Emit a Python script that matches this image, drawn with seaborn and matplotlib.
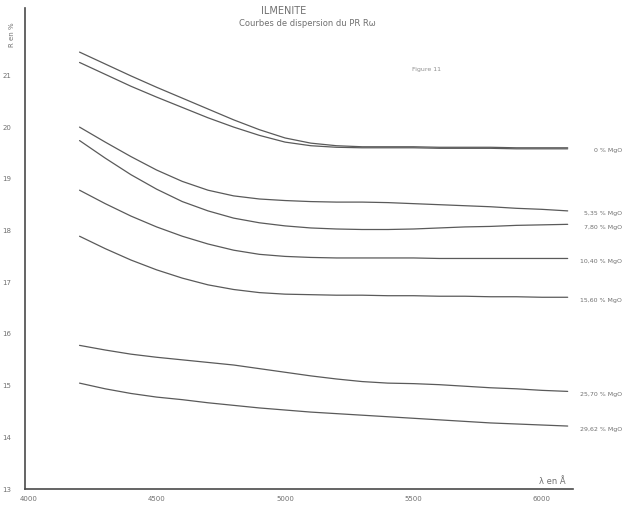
import pandas as pd
import matplotlib
matplotlib.use('Agg')
import matplotlib.pyplot as plt
import seaborn as sns

# Données (longueur d'onde en Å, R en %)
lambdas = [4200, 4300, 4400, 4500, 4600, 4700, 4800, 4900, 5000, 5100,
           5200, 5300, 5400, 5500, 5600, 5700, 5800, 5900, 6000, 6100]

r_0a = [21.45, 21.22, 20.99, 20.77, 20.56, 20.35, 20.14, 19.95, 19.79, 19.69,
        19.64, 19.62, 19.62, 19.62, 19.61, 19.61, 19.61, 19.60, 19.60, 19.60]
r_0b = [21.25, 21.02, 20.79, 20.58, 20.38, 20.18, 20.00, 19.84, 19.71, 19.64,
        19.61, 19.60, 19.60, 19.60, 19.59, 19.59, 19.59, 19.58, 19.58, 19.58]
r_535 = [20.00, 19.71, 19.43, 19.17, 18.95, 18.78, 18.67, 18.61, 18.58, 18.56,
         18.55, 18.55, 18.54, 18.52, 18.50, 18.48, 18.46, 18.43, 18.41, 18.38]
r_780 = [19.74, 19.40, 19.08, 18.80, 18.56, 18.38, 18.24, 18.15, 18.09, 18.05,
         18.03, 18.02, 18.02, 18.03, 18.05, 18.07, 18.08, 18.10, 18.11, 18.12]
r_1040 = [18.78, 18.52, 18.28, 18.07, 17.89, 17.74, 17.62, 17.54, 17.50, 17.48,
          17.47, 17.47, 17.47, 17.47, 17.46, 17.46, 17.46, 17.46, 17.46, 17.46]
r_1560 = [17.89, 17.65, 17.43, 17.24, 17.08, 16.95, 16.86, 16.80, 16.77, 16.76,
          16.75, 16.75, 16.74, 16.74, 16.73, 16.73, 16.72, 16.72, 16.71, 16.71]
r_2570 = [15.78, 15.69, 15.61, 15.55, 15.50, 15.45, 15.40, 15.33, 15.26, 15.19,
          15.13, 15.08, 15.05, 15.04, 15.02, 14.99, 14.96, 14.94, 14.91, 14.89]
r_2962 = [15.05, 14.94, 14.85, 14.78, 14.73, 14.67, 14.62, 14.57, 14.53, 14.49,
          14.46, 14.43, 14.40, 14.37, 14.34, 14.31, 14.28, 14.26, 14.24, 14.22]

courbes = ['0a', '0b', '5,35', '7,80', '10,40', '15,60', '25,70', '29,62']
valeurs = [r_0a, r_0b, r_535, r_780, r_1040, r_1560, r_2570, r_2962]
etiquettes = ['0 % MgO', None, '5,35 % MgO', '7,80 % MgO', '10,40 % MgO',
              '15,60 % MgO', '25,70 % MgO', '29,62 % MgO']

x_ticks = [4000, 4500, 5000, 5500, 6000]
y_ticks = [13, 14, 15, 16, 17, 18, 19, 20, 21]

df = pd.concat([pd.DataFrame({'lambda': lambdas, 'R': v, 'courbe': c})
                for c, v in zip(courbes, valeurs)])

sns.set_style('white')
gris = '#5a5a5a'
texte = '#707070'

fig = plt.figure(figsize=(6.27, 5.09), dpi=100)
ax = fig.add_axes([0.040, 0.039, 0.874, 0.945])

sns.lineplot(data=df, x='lambda', y='R', units='courbe', estimator=None,
             color=gris, linewidth=0.9, ax=ax, legend=False)

ax.set_xlim(3988, 6121)
ax.set_ylim(13, 22.3)
ax.set_xticks(x_ticks)
ax.set_yticks(y_ticks)
ax.tick_params(axis='both', labelsize=5, colors=texte, length=2, width=0.6,
               pad=8)
ax.tick_params(axis='x', pad=3)
ax.set_xlabel('')
ax.set_ylabel('')
for s in ['top', 'right']:
    ax.spines[s].set_visible(False)
for s in ['left', 'bottom']:
    ax.spines[s].set_color('#4a4a4a')
    ax.spines[s].set_linewidth(1.2)

# Etiquettes des courbes à droite
for v, lab in zip(valeurs, etiquettes):
    if lab is None:
        continue
    ax.text(6311, v[-1] - 0.06, lab, ha='right', va='center', fontsize=4.5,
            color=texte, clip_on=False)

ax.text(6039, 13.06, 'λ en Å', fontsize=6, color=texte, ha='center',
        va='bottom')
ax.text(5550, 21.12, 'Figure 11', fontsize=4.5, color='#909090', ha='center',
        va='center')

fig.text(12 / 627, 1 - 35 / 509, 'R en %', rotation=90, fontsize=5,
         color=texte, ha='center', va='center')
fig.text(284 / 627, 1 - 11 / 509, 'ILMENITE', fontsize=7, color=texte,
         ha='center', va='center')
fig.text(307 / 627, 1 - 24 / 509, 'Courbes de dispersion du PR Rω',
         fontsize=6, color=texte, ha='center', va='center')

plt.savefig('out.png', dpi=100)
